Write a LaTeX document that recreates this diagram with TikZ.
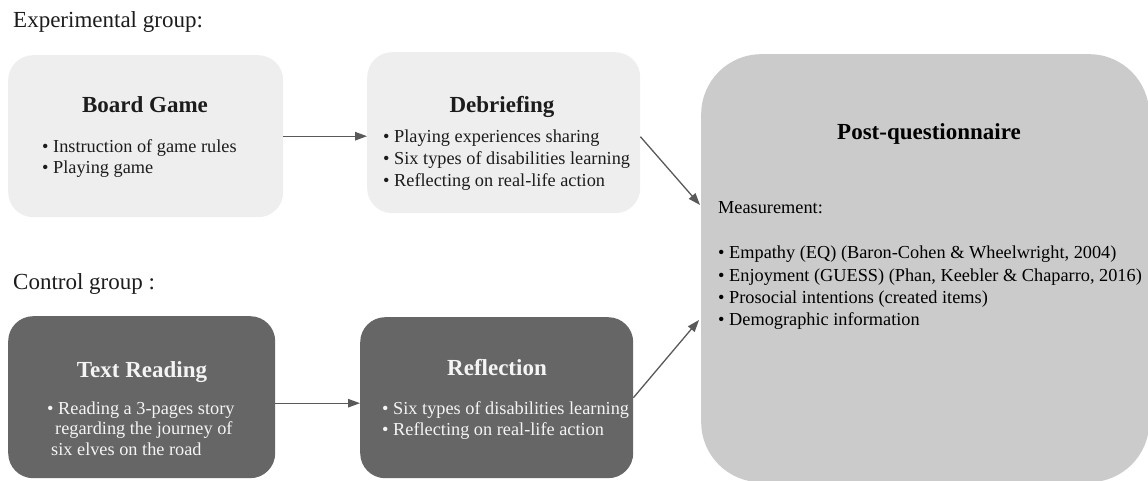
\documentclass[tikz,border=0pt]{standalone}
\usepackage{fontspec}
\setmainfont{Liberation Serif}
\usetikzlibrary{arrows.meta}
\definecolor{lightbox}{HTML}{EEEEEE}
\definecolor{darkbox}{HTML}{666666}
\definecolor{postbox}{HTML}{CBCBCB}
\definecolor{linkgray}{HTML}{595959}
\definecolor{ink}{HTML}{1C1C1C}
\definecolor{paleink}{HTML}{F4F4F4}
\begin{document}
\begin{tikzpicture}[x=1pt,y=-1pt,
  panel/.style={rectangle, rounded corners=25pt, inner sep=0pt, anchor=north west},
  lightpanel/.style={panel, fill=lightbox},
  darkpanel/.style={panel, fill=darkbox},
  heading/.style={anchor=base, inner sep=0pt, font=\fontsize{23}{27}\selectfont\bfseries},
  body/.style={anchor=base west, inner sep=0pt, font=\fontsize{18.3}{22}\selectfont},
  grouplabel/.style={anchor=base west, inner sep=0pt, font=\fontsize{23}{27}\selectfont, text=ink},
  link/.style={draw=linkgray, line width=1.3pt, -{Triangle[length=12pt,width=8.5pt]}}
]
\useasboundingbox (0,0) rectangle (1148,481);

% group labels
\node[grouplabel] (lexp) at (13,28) {Experimental group:};
\node[grouplabel] (lctl) at (13,289) {Control group :};

% experimental group
\node[lightpanel, minimum width=275pt, minimum height=162pt] (board) at (8,55) {};
\node[heading, text=ink] (boardT) at (145,113) {Board Game};
\node[body, text=ink] (boardA) at (42,153) {• Instruction of game rules};
\node[body, text=ink] (boardB) at (42,174) {• Playing game};

\node[lightpanel, minimum width=273pt, minimum height=161pt] (debrief) at (367,52) {};
\node[heading, text=ink] (debriefT) at (502,113) {Debriefing};
\node[body, text=ink] (debriefA) at (383,143) {• Playing experiences sharing};
\node[body, text=ink] (debriefB) at (383,165) {• Six types of disabilities learning};
\node[body, text=ink] (debriefC) at (383,187) {• Reflecting on real-life action};

% control group
\node[darkpanel, minimum width=267pt, minimum height=162pt] (textread) at (8,316) {};
\node[heading, text=paleink] (textreadT) at (142,377) {Text Reading};
\node[body, text=paleink] (textreadA) at (47,414) {• Reading a 3-pages story};
\node[body, text=paleink] (textreadB) at (55,434) {regarding the journey of};
\node[body, text=paleink] (textreadC) at (51,455) {six elves on the road};

\node[darkpanel, minimum width=273pt, minimum height=161pt] (reflect) at (360,317) {};
\node[heading, text=paleink] (reflectT) at (497,375) {Reflection};
\node[body, text=paleink] (reflectA) at (382,414) {• Six types of disabilities learning};
\node[body, text=paleink] (reflectB) at (382,435) {• Reflecting on real-life action};

% post-questionnaire
\node[panel, rounded corners=60pt, fill=postbox, minimum width=448pt, minimum height=428pt] (post) at (701,54) {};
\node[heading, text=black] (postT) at (929,140) {Post-questionnaire};
\node[body, text=black] (postM) at (718,214) {Measurement:};
\node[body, text=black] (postA) at (718,258) {• Empathy (EQ) (Baron-Cohen \& Wheelwright, 2004)};
\node[body, text=black] (postB) at (718,281) {• Enjoyment (GUESS) (Phan, Keebler \& Chaparro, 2016)};
\node[body, text=black] (postC) at (718,303) {• Prosocial intentions (created items)};
\node[body, text=black] (postD) at (718,325) {• Demographic information};

% connectors
\coordinate (in1) at (700,205);
\coordinate (in2) at (699,320);
\draw[link] (board.east) -- (board.east -| debrief.west);
\draw[link] ([yshift=-6pt]textread.east) -- ([yshift=-6pt]textread.east -| reflect.west);
\draw[link] ([yshift=-4pt]debrief.east) -- (in1);
\draw[link] (reflect.east) -- (in2);
\end{tikzpicture}
\end{document}
